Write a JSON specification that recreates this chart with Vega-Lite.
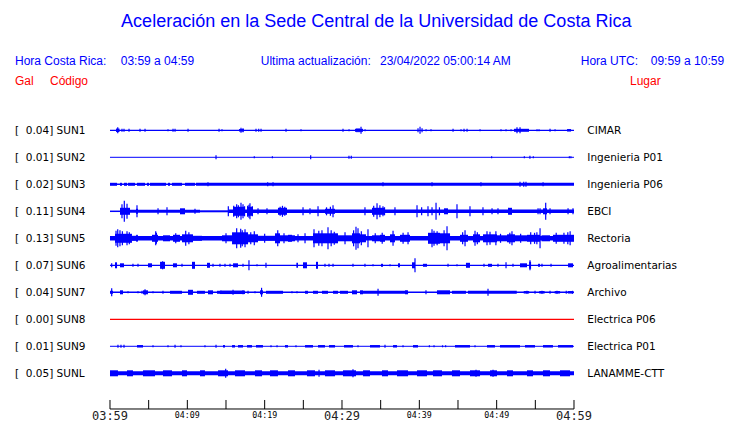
{
"$schema":"https://vega.github.io/schema/vega-lite/v6.json",
"width":740,"height":423,
"autosize":{"type":"fit","contains":"padding"},
"padding":0,
"background":"white",
"config":{"view":{"stroke":null}},
"datasets":{
"st":[
{"s":1,"lab":"[\u00a0\u00a00.04] SUN1","lug":"CIMAR"},
{"s":2,"lab":"[\u00a0\u00a00.01] SUN2","lug":"Ingenieria P01"},
{"s":3,"lab":"[\u00a0\u00a00.02] SUN3","lug":"Ingenieria P06"},
{"s":4,"lab":"[\u00a0\u00a00.11] SUN4","lug":"EBCI"},
{"s":5,"lab":"[\u00a0\u00a00.13] SUN5","lug":"Rectoria"},
{"s":6,"lab":"[\u00a0\u00a00.07] SUN6","lug":"Agroalimentarias"},
{"s":7,"lab":"[\u00a0\u00a00.04] SUN7","lug":"Archivo"},
{"s":8,"lab":"[\u00a0\u00a00.00] SUN8","lug":"Electrica P06"},
{"s":9,"lab":"[\u00a0\u00a00.01] SUN9","lug":"Electrica P01"},
{"s":10,"lab":"[\u00a0\u00a00.05] SUNL","lug":"LANAMME-CTT"}],
"ax":[{"t":0,"lab":"03:59"},{"t":5,"lab":""},{"t":10,"lab":"04:09"},{"t":15,"lab":""},{"t":20,"lab":"04:19"},{"t":25,"lab":""},{"t":30,"lab":"04:29"},{"t":35,"lab":""},{"t":40,"lab":"04:39"},{"t":45,"lab":""},{"t":50,"lab":"04:49"},{"t":55,"lab":""},{"t":60,"lab":"04:59"}],
"seg":[
{"s":1,"a":0,"b":60,"v":1.3},{"s":1,"a":0.78,"b":1.23,"v":3.5},{"s":1,"a":16.68,"b":17.33,"v":2.5},{"s":1,"a":31.68,"b":32.72,"v":3},{"s":1,"a":52.24,"b":54.18,"v":3},{"s":1,"a":59.1,"b":59.62,"v":2.5},
{"s":2,"a":0,"b":60,"v":1},
{"s":3,"a":0,"b":60,"v":1.5},{"s":3,"a":0,"b":0.91,"v":3},{"s":3,"a":1.29,"b":1.55,"v":3},{"s":3,"a":1.81,"b":2.2,"v":3},{"s":3,"a":2.33,"b":3.23,"v":3},{"s":3,"a":3.49,"b":4.53,"v":3},{"s":3,"a":4.78,"b":5.04,"v":3},{"s":3,"a":5.17,"b":7.24,"v":3},{"s":3,"a":7.5,"b":7.76,"v":3},{"s":3,"a":8.02,"b":9.31,"v":3},{"s":3,"a":9.7,"b":10.99,"v":3},{"s":3,"a":11.12,"b":60,"v":3},
{"s":4,"a":0,"b":1.29,"v":1.5},{"s":4,"a":1.29,"b":11.64,"v":3},{"s":4,"a":11.64,"b":15.3,"v":2},{"s":4,"a":15.3,"b":60,"v":3.5},{"s":4,"a":1.29,"b":2.59,"v":7},{"s":4,"a":3.36,"b":3.62,"v":5},{"s":4,"a":9.05,"b":9.7,"v":6},{"s":4,"a":15.91,"b":17.46,"v":9},{"s":4,"a":17.72,"b":18.49,"v":9},{"s":4,"a":21.72,"b":22.89,"v":7},{"s":4,"a":27.8,"b":29.1,"v":5},{"s":4,"a":33.88,"b":35.56,"v":7},{"s":4,"a":43.19,"b":43.71,"v":6},{"s":4,"a":51.47,"b":51.98,"v":7},{"s":4,"a":55.99,"b":56.51,"v":6},
{"s":5,"a":0,"b":60,"v":4.5},{"s":5,"a":0.65,"b":2.84,"v":9},{"s":5,"a":2.84,"b":3.36,"v":5},{"s":5,"a":3.36,"b":3.62,"v":6},{"s":5,"a":5.43,"b":6.21,"v":7},{"s":5,"a":6.85,"b":7.76,"v":6},{"s":5,"a":8.15,"b":9.05,"v":7},{"s":5,"a":9.31,"b":10.73,"v":8},{"s":5,"a":10.73,"b":11.9,"v":5},{"s":5,"a":14.48,"b":15.78,"v":6},{"s":5,"a":15.78,"b":17.85,"v":12},{"s":5,"a":17.85,"b":19.14,"v":8},{"s":5,"a":19.14,"b":21.34,"v":5},{"s":5,"a":21.34,"b":21.98,"v":10},{"s":5,"a":21.98,"b":23.92,"v":6},{"s":5,"a":23.02,"b":23.53,"v":7},{"s":5,"a":26.25,"b":26.9,"v":10},{"s":5,"a":26.9,"b":29.48,"v":10},{"s":5,"a":29.48,"b":31.29,"v":6},{"s":5,"a":31.29,"b":32.33,"v":10},{"s":5,"a":32.33,"b":33.1,"v":8},{"s":5,"a":33.88,"b":34.91,"v":6},{"s":5,"a":34.91,"b":35.56,"v":7},{"s":5,"a":36.21,"b":36.85,"v":8},{"s":5,"a":37.5,"b":38.79,"v":7},{"s":5,"a":41.12,"b":42.67,"v":11},{"s":5,"a":42.67,"b":43.97,"v":10},{"s":5,"a":45.26,"b":46.29,"v":7},{"s":5,"a":46.94,"b":47.85,"v":8},{"s":5,"a":48.23,"b":50.04,"v":8},{"s":5,"a":50.04,"b":51.34,"v":6},{"s":5,"a":51.34,"b":52.37,"v":8},{"s":5,"a":52.37,"b":53.92,"v":6},{"s":5,"a":53.92,"b":55.61,"v":7},{"s":5,"a":55.8,"b":56.9,"v":6},{"s":5,"a":57.28,"b":58.19,"v":7},{"s":5,"a":58.19,"b":60,"v":7},
{"s":6,"a":0,"b":60,"v":1.2},{"s":6,"a":0.65,"b":0.91,"v":6},{"s":6,"a":1.29,"b":1.81,"v":4},{"s":6,"a":4.91,"b":5.43,"v":4},{"s":6,"a":6.47,"b":7.11,"v":7},{"s":6,"a":8.15,"b":8.66,"v":4},{"s":6,"a":10.6,"b":10.99,"v":7},{"s":6,"a":12.54,"b":12.93,"v":5},{"s":6,"a":15.91,"b":16.55,"v":4},{"s":6,"a":24.1,"b":24.31,"v":5},{"s":6,"a":24.96,"b":25.47,"v":6},{"s":6,"a":26.64,"b":26.9,"v":7},{"s":6,"a":35.04,"b":35.3,"v":3},{"s":6,"a":37.24,"b":37.5,"v":4},{"s":6,"a":39.05,"b":39.44,"v":6},{"s":6,"a":40.47,"b":40.99,"v":3},{"s":6,"a":46.03,"b":46.55,"v":5},{"s":6,"a":48.88,"b":49.4,"v":3},{"s":6,"a":53.02,"b":53.92,"v":4},{"s":6,"a":54.2,"b":54.45,"v":7},{"s":6,"a":55.35,"b":55.61,"v":3},{"s":6,"a":59.23,"b":59.87,"v":4},
{"s":7,"a":0,"b":60,"v":1.5},{"s":7,"a":0,"b":0.39,"v":3},{"s":7,"a":1.29,"b":1.68,"v":4},{"s":7,"a":4.27,"b":4.91,"v":4},{"s":7,"a":7.76,"b":9.31,"v":3},{"s":7,"a":10.09,"b":10.73,"v":5},{"s":7,"a":11.25,"b":12.28,"v":3},{"s":7,"a":12.67,"b":13.32,"v":4},{"s":7,"a":13.84,"b":14.48,"v":3},{"s":7,"a":14.22,"b":17.46,"v":3.5},{"s":7,"a":19.4,"b":19.78,"v":4},{"s":7,"a":20.17,"b":22.37,"v":3},{"s":7,"a":25.22,"b":25.6,"v":3},{"s":7,"a":26.25,"b":26.9,"v":3},{"s":7,"a":27.41,"b":28.19,"v":3},{"s":7,"a":28.84,"b":29.48,"v":3},{"s":7,"a":29.74,"b":30.78,"v":3},{"s":7,"a":31.29,"b":31.94,"v":4},{"s":7,"a":32.33,"b":32.72,"v":4},{"s":7,"a":32.72,"b":38.41,"v":3},{"s":7,"a":38.15,"b":38.54,"v":4},{"s":7,"a":42.28,"b":43.97,"v":4},{"s":7,"a":44.22,"b":46.03,"v":3},{"s":7,"a":46.29,"b":52.6,"v":3},{"s":7,"a":53.5,"b":54.2,"v":2.5},{"s":7,"a":55.5,"b":56.2,"v":2.5},{"s":7,"a":57.5,"b":58.2,"v":2.5},{"s":7,"a":59.2,"b":59.9,"v":2.5},
{"s":8,"a":0,"b":60,"v":1.3},
{"s":9,"a":0,"b":60,"v":1},{"s":9,"a":3.49,"b":4.27,"v":2.5},{"s":9,"a":14.61,"b":14.87,"v":2.5},{"s":9,"a":15.78,"b":16.16,"v":2.5},{"s":9,"a":16.55,"b":17.2,"v":2.5},{"s":9,"a":17.72,"b":18.36,"v":2.5},{"s":9,"a":18.88,"b":19.78,"v":2.5},{"s":9,"a":22.63,"b":23.02,"v":2.5},{"s":9,"a":25.22,"b":26.25,"v":2.5},{"s":9,"a":26.9,"b":27.8,"v":2.5},{"s":9,"a":28.32,"b":29.1,"v":2.5},{"s":9,"a":30.26,"b":31.42,"v":2.5},{"s":9,"a":33.62,"b":34.91,"v":2.5},{"s":9,"a":36.6,"b":37.11,"v":2.5},{"s":9,"a":39.18,"b":39.83,"v":2.5},{"s":9,"a":44.61,"b":46.55,"v":2.5},{"s":9,"a":48.75,"b":49.78,"v":2.5},{"s":9,"a":50.43,"b":53.02,"v":2.5},{"s":9,"a":53.66,"b":54.96,"v":2.5},{"s":9,"a":55.99,"b":57.28,"v":2.5},{"s":9,"a":57.93,"b":59.87,"v":2.5},
{"s":10,"a":0,"b":60,"v":4},{"s":10,"a":0,"b":1.03,"v":6},{"s":10,"a":2.2,"b":2.97,"v":6},{"s":10,"a":4.27,"b":5.82,"v":6},{"s":10,"a":6.85,"b":8.02,"v":6},{"s":10,"a":9.31,"b":9.96,"v":6},{"s":10,"a":11.64,"b":12.28,"v":6},{"s":10,"a":13.97,"b":15.26,"v":6},{"s":10,"a":16.16,"b":17.46,"v":6},{"s":10,"a":18.75,"b":19.66,"v":6},{"s":10,"a":20.69,"b":21.72,"v":6},{"s":10,"a":23.02,"b":23.92,"v":6},{"s":10,"a":25.47,"b":26.51,"v":6},{"s":10,"a":27.8,"b":29.1,"v":6},{"s":10,"a":30.13,"b":31.81,"v":6},{"s":10,"a":32.72,"b":33.62,"v":6},{"s":10,"a":35.17,"b":35.95,"v":6},{"s":10,"a":37.11,"b":38.54,"v":6},{"s":10,"a":39.7,"b":40.99,"v":6},{"s":10,"a":41.77,"b":42.93,"v":6},{"s":10,"a":44.22,"b":45.26,"v":6},{"s":10,"a":46.55,"b":47.85,"v":6},{"s":10,"a":49.14,"b":50.04,"v":6},{"s":10,"a":51.34,"b":52.11,"v":6},{"s":10,"a":53.92,"b":54.7,"v":6},{"s":10,"a":55.99,"b":56.9,"v":6},{"s":10,"a":58.19,"b":59.49,"v":6}],
"spk":[
{"s":1,"t":1.0,"v":6},{"s":1,"t":1.55,"v":3},{"s":1,"t":1.81,"v":3},{"s":1,"t":2.46,"v":3},{"s":1,"t":3.88,"v":3},{"s":1,"t":4.53,"v":3},{"s":1,"t":7.5,"v":2},{"s":1,"t":8.15,"v":3},{"s":1,"t":8.41,"v":3},{"s":1,"t":10.09,"v":3},{"s":1,"t":14.1,"v":3},{"s":1,"t":14.48,"v":2},{"s":1,"t":16.94,"v":5},{"s":1,"t":17.2,"v":4},{"s":1,"t":18.88,"v":3},{"s":1,"t":19.23,"v":3},{"s":1,"t":19.53,"v":3},{"s":1,"t":22.76,"v":3},{"s":1,"t":24.7,"v":2},{"s":1,"t":30.13,"v":3},{"s":1,"t":30.91,"v":2},{"s":1,"t":31.94,"v":4},{"s":1,"t":32.2,"v":4},{"s":1,"t":32.46,"v":7},{"s":1,"t":32.98,"v":2},{"s":1,"t":39.83,"v":4},{"s":1,"t":40.09,"v":7},{"s":1,"t":40.35,"v":4},{"s":1,"t":40.87,"v":2},{"s":1,"t":41.51,"v":2},{"s":1,"t":44.36,"v":3},{"s":1,"t":45.39,"v":2},{"s":1,"t":45.78,"v":3},{"s":1,"t":46.17,"v":3},{"s":1,"t":47.85,"v":2},{"s":1,"t":50.56,"v":2},{"s":1,"t":51.21,"v":2},{"s":1,"t":51.86,"v":2},{"s":1,"t":52.63,"v":6},{"s":1,"t":53.02,"v":6},{"s":1,"t":55.22,"v":2},{"s":1,"t":55.48,"v":2},{"s":1,"t":56.9,"v":3},{"s":1,"t":57.55,"v":2},
{"s":2,"t":13.71,"v":4},{"s":2,"t":18.66,"v":2},{"s":2,"t":21.0,"v":2},{"s":2,"t":25.95,"v":4},{"s":2,"t":30.9,"v":3},{"s":2,"t":31.2,"v":3},{"s":2,"t":49.35,"v":2},{"s":2,"t":53.58,"v":2},{"s":2,"t":54.3,"v":3},{"s":2,"t":54.74,"v":2},{"s":2,"t":59.4,"v":2},{"s":2,"t":59.6,"v":2},
{"s":3,"t":12.67,"v":4},{"s":3,"t":20.39,"v":4},{"s":3,"t":21.08,"v":4},{"s":3,"t":35.3,"v":4},{"s":3,"t":41.64,"v":4},{"s":3,"t":47.97,"v":4},{"s":3,"t":53.02,"v":5},{"s":3,"t":53.5,"v":5},{"s":3,"t":53.79,"v":5},{"s":3,"t":56.0,"v":4},
{"s":4,"t":1.85,"v":21},{"s":4,"t":2.2,"v":15},{"s":4,"t":1.55,"v":14},{"s":4,"t":3.49,"v":12},{"s":4,"t":6.21,"v":6},{"s":4,"t":7.37,"v":8},{"s":4,"t":10.99,"v":5},{"s":4,"t":15.3,"v":10},{"s":4,"t":16.0,"v":11},{"s":4,"t":16.38,"v":14},{"s":4,"t":16.6,"v":12},{"s":4,"t":16.94,"v":17},{"s":4,"t":17.2,"v":14},{"s":4,"t":17.4,"v":10},{"s":4,"t":17.8,"v":11},{"s":4,"t":17.97,"v":13},{"s":4,"t":18.1,"v":16},{"s":4,"t":18.4,"v":10},{"s":4,"t":19.14,"v":6},{"s":4,"t":20.3,"v":6},{"s":4,"t":22.0,"v":9},{"s":4,"t":22.3,"v":11},{"s":4,"t":22.6,"v":9},{"s":4,"t":24.96,"v":8},{"s":4,"t":25.86,"v":6},{"s":4,"t":26.9,"v":10},{"s":4,"t":28.0,"v":8},{"s":4,"t":28.5,"v":9},{"s":4,"t":28.84,"v":12},{"s":4,"t":32.97,"v":8},{"s":4,"t":34.1,"v":11},{"s":4,"t":34.53,"v":16},{"s":4,"t":34.9,"v":12},{"s":4,"t":35.3,"v":10},{"s":4,"t":35.5,"v":8},{"s":4,"t":36.85,"v":8},{"s":4,"t":39.7,"v":12},{"s":4,"t":40.3,"v":8},{"s":4,"t":41.12,"v":10},{"s":4,"t":41.64,"v":8},{"s":4,"t":42.16,"v":17},{"s":4,"t":42.6,"v":8},{"s":4,"t":44.87,"v":14},{"s":4,"t":46.55,"v":10},{"s":4,"t":48.23,"v":8},{"s":4,"t":49.4,"v":6},{"s":4,"t":50.17,"v":6},{"s":4,"t":55.35,"v":6},{"s":4,"t":55.61,"v":6},{"s":4,"t":56.34,"v":17},{"s":4,"t":56.9,"v":6},{"s":4,"t":59.23,"v":6},{"s":4,"t":59.87,"v":6},
{"s":5,"t":0.78,"v":15},{"s":5,"t":1.0,"v":18},{"s":5,"t":1.29,"v":16},{"s":5,"t":1.6,"v":14},{"s":5,"t":2.2,"v":14},{"s":5,"t":2.5,"v":12},{"s":5,"t":3.49,"v":7},{"s":5,"t":5.91,"v":14},{"s":5,"t":6.0,"v":11},{"s":5,"t":8.5,"v":10},{"s":5,"t":9.79,"v":15},{"s":5,"t":10.2,"v":12},{"s":5,"t":15.0,"v":10},{"s":5,"t":16.38,"v":20},{"s":5,"t":16.9,"v":19},{"s":5,"t":17.1,"v":16},{"s":5,"t":17.46,"v":18},{"s":5,"t":18.2,"v":12},{"s":5,"t":18.66,"v":14},{"s":5,"t":20.0,"v":9},{"s":5,"t":21.69,"v":16},{"s":5,"t":22.5,"v":10},{"s":5,"t":24.31,"v":8},{"s":5,"t":25.22,"v":10},{"s":5,"t":26.38,"v":18},{"s":5,"t":27.0,"v":15},{"s":5,"t":27.41,"v":16},{"s":5,"t":28.19,"v":22},{"s":5,"t":28.6,"v":16},{"s":5,"t":29.0,"v":13},{"s":5,"t":30.39,"v":12},{"s":5,"t":31.5,"v":16},{"s":5,"t":31.81,"v":23},{"s":5,"t":32.07,"v":20},{"s":5,"t":32.5,"v":14},{"s":5,"t":33.36,"v":18},{"s":5,"t":34.3,"v":10},{"s":5,"t":35.2,"v":11},{"s":5,"t":36.6,"v":15},{"s":5,"t":37.9,"v":11},{"s":5,"t":38.54,"v":12},{"s":5,"t":41.64,"v":18},{"s":5,"t":41.9,"v":15},{"s":5,"t":42.3,"v":14},{"s":5,"t":43.2,"v":16},{"s":5,"t":43.58,"v":24},{"s":5,"t":45.6,"v":12},{"s":5,"t":45.91,"v":16},{"s":5,"t":47.2,"v":15},{"s":5,"t":47.5,"v":12},{"s":5,"t":48.75,"v":14},{"s":5,"t":49.14,"v":13},{"s":5,"t":49.9,"v":14},{"s":5,"t":50.5,"v":9},{"s":5,"t":51.7,"v":11},{"s":5,"t":51.98,"v":14},{"s":5,"t":53.1,"v":9},{"s":5,"t":54.4,"v":12},{"s":5,"t":54.9,"v":11},{"s":5,"t":55.2,"v":12},{"s":5,"t":55.61,"v":20},{"s":5,"t":57.7,"v":11},{"s":5,"t":58.7,"v":11},{"s":5,"t":59.2,"v":12},{"s":5,"t":59.5,"v":14},
{"s":6,"t":0.22,"v":4},{"s":6,"t":2.97,"v":3},{"s":6,"t":3.62,"v":3},{"s":6,"t":6.8,"v":8},{"s":6,"t":9.31,"v":3},{"s":6,"t":13.32,"v":3},{"s":6,"t":14.22,"v":3},{"s":6,"t":14.87,"v":3},{"s":6,"t":15.52,"v":3},{"s":6,"t":17.2,"v":3},{"s":6,"t":17.97,"v":10},{"s":6,"t":19.01,"v":2},{"s":6,"t":20.17,"v":5},{"s":6,"t":27.8,"v":3},{"s":6,"t":28.32,"v":3},{"s":6,"t":28.84,"v":3},{"s":6,"t":31.42,"v":3},{"s":6,"t":32.97,"v":3},{"s":6,"t":34.01,"v":2},{"s":6,"t":36.21,"v":2},{"s":6,"t":39.44,"v":14},{"s":6,"t":43.71,"v":3},{"s":6,"t":44.87,"v":2},{"s":6,"t":48.36,"v":3},{"s":6,"t":50.17,"v":3},{"s":6,"t":51.21,"v":6},{"s":6,"t":52.11,"v":3},{"s":6,"t":54.31,"v":10},{"s":6,"t":55.86,"v":3},{"s":6,"t":57.03,"v":3},
{"s":7,"t":0.22,"v":8},{"s":7,"t":2.33,"v":2},{"s":7,"t":3.62,"v":2},{"s":7,"t":4.14,"v":3},{"s":7,"t":4.53,"v":6},{"s":7,"t":5.56,"v":2},{"s":7,"t":6.85,"v":3},{"s":7,"t":15.91,"v":5},{"s":7,"t":17.2,"v":4},{"s":7,"t":17.85,"v":3},{"s":7,"t":18.75,"v":2},{"s":7,"t":19.6,"v":9},{"s":7,"t":23.53,"v":2},{"s":7,"t":24.18,"v":2},{"s":7,"t":34.66,"v":7},{"s":7,"t":40.86,"v":4},{"s":7,"t":48.88,"v":7},{"s":7,"t":53.92,"v":3},{"s":7,"t":54.96,"v":3},{"s":7,"t":55.86,"v":3},{"s":7,"t":56.9,"v":3},{"s":7,"t":57.8,"v":3},{"s":7,"t":59.0,"v":3},{"s":7,"t":59.8,"v":3},
{"s":9,"t":1.03,"v":3},{"s":9,"t":1.42,"v":3},{"s":9,"t":1.81,"v":3},{"s":9,"t":5.56,"v":2},{"s":9,"t":7.5,"v":2},{"s":9,"t":8.41,"v":3},{"s":9,"t":9.18,"v":2},{"s":9,"t":12.28,"v":2},{"s":9,"t":13.71,"v":3},{"s":9,"t":20.82,"v":2},{"s":9,"t":21.6,"v":2},{"s":9,"t":24.05,"v":2},{"s":9,"t":32.07,"v":2},{"s":9,"t":35.56,"v":3},{"s":9,"t":37.89,"v":2},{"s":9,"t":41.3,"v":2},{"s":9,"t":41.9,"v":2},{"s":9,"t":43.0,"v":2},{"s":9,"t":43.4,"v":2},{"s":9,"t":47.2,"v":2},
{"s":10,"t":14.96,"v":9},{"s":10,"t":27.03,"v":7},{"s":10,"t":31.42,"v":8},{"s":10,"t":47.33,"v":7},{"s":10,"t":49.53,"v":7}]
},
"layer":[
{"data":{"name":"seg"},"mark":{"type":"rule"},
 "encoding":{
  "x":{"field":"a","type":"quantitative","scale":{"domain":[-14.224,81.466],"nice":false,"zero":false},"axis":null},
  "x2":{"field":"b"},
  "y":{"field":"s","type":"quantitative","scale":{"domain":[-3.826,11.841],"reverse":true,"nice":false,"zero":false},"axis":null},
  "strokeWidth":{"field":"v","type":"quantitative","scale":{"domain":[0,30],"range":[0,30]},"legend":null},
  "color":{"condition":{"test":"datum.s === 8","value":"#ff0000"},"value":"#0000ff"}}},
{"data":{"name":"spk"},"mark":{"type":"tick","orient":"vertical","thickness":1.2,"opacity":1},
 "encoding":{
  "x":{"field":"t","type":"quantitative","scale":{"domain":[-14.224,81.466],"nice":false,"zero":false},"axis":null},
  "y":{"field":"s","type":"quantitative","scale":{"domain":[-3.826,11.841],"reverse":true,"nice":false,"zero":false},"axis":null},
  "size":{"field":"v","type":"quantitative","scale":{"domain":[0,30],"range":[0,30]},"legend":null},
  "color":{"value":"#0000ff"}}},
{"data":{"name":"st"},"mark":{"type":"text","font":"DejaVu Sans","fontSize":10.5,"color":"#000000","align":"left","baseline":"middle","dy":1},
 "encoding":{
  "x":{"datum":-12.285,"type":"quantitative","axis":null},
  "y":{"field":"s","type":"quantitative","axis":null},
  "text":{"field":"lab"}}},
{"data":{"name":"st"},"mark":{"type":"text","font":"DejaVu Sans","fontSize":10.5,"color":"#000000","align":"left","baseline":"middle","dy":1},
 "encoding":{
  "x":{"datum":61.72,"type":"quantitative","axis":null},
  "y":{"field":"s","type":"quantitative","axis":null},
  "text":{"field":"lug"}}},
{"data":{"values":[{}]},"mark":{"type":"rule","color":"#000000","strokeWidth":1},
 "encoding":{
  "x":{"datum":0,"type":"quantitative","axis":null},"x2":{"datum":60},
  "y":{"datum":11.322,"type":"quantitative","axis":null}}},
{"data":{"name":"ax"},"mark":{"type":"rule","color":"#000000","strokeWidth":1},
 "encoding":{
  "x":{"field":"t","type":"quantitative","axis":null},
  "y":{"datum":10.989,"type":"quantitative","axis":null},"y2":{"datum":11.322}}},
{"data":{"name":"ax"},"transform":[{"filter":"datum.t % 30 === 0"}],
 "mark":{"type":"text","font":"DejaVu Sans Mono","fontSize":12,"color":"#222222","align":"center","baseline":"alphabetic"},
 "encoding":{
  "x":{"field":"t","type":"quantitative","axis":null},
  "y":{"datum":11.73,"type":"quantitative","axis":null},
  "text":{"field":"lab"}}},
{"data":{"name":"ax"},"transform":[{"filter":"datum.t % 30 !== 0"}],
 "mark":{"type":"text","font":"DejaVu Sans Mono","fontSize":8.3,"color":"#000000","align":"center","baseline":"alphabetic"},
 "encoding":{
  "x":{"field":"t","type":"quantitative","axis":null},
  "y":{"datum":11.667,"type":"quantitative","axis":null},
  "text":{"field":"lab"}}},
{"data":{"values":[{}]},"mark":{"type":"text","font":"Liberation Sans","fontSize":18,"color":"#0000ff","align":"center","baseline":"middle"},
 "encoding":{"x":{"datum":34.43,"type":"quantitative","axis":null},"y":{"datum":-3.011,"type":"quantitative","axis":null},
  "text":{"value":"Aceleración en la Sede Central de la Universidad de Costa Rica"}}},
{"data":{"values":[{}]},"mark":{"type":"text","font":"Liberation Sans","fontSize":12,"color":"#0000ff","align":"left","baseline":"middle"},
 "encoding":{"x":{"datum":-12.285,"type":"quantitative","axis":null},"y":{"datum":-1.578,"type":"quantitative","axis":null},"text":{"value":"Hora Costa Rica:"}}},
{"data":{"values":[{}]},"mark":{"type":"text","font":"Liberation Sans","fontSize":12,"color":"#0000ff","align":"left","baseline":"middle"},
 "encoding":{"x":{"datum":1.384,"type":"quantitative","axis":null},"y":{"datum":-1.578,"type":"quantitative","axis":null},"text":{"value":"03:59 a 04:59"}}},
{"data":{"values":[{}]},"mark":{"type":"text","font":"Liberation Sans","fontSize":12,"color":"#0000ff","align":"left","baseline":"middle"},
 "encoding":{"x":{"datum":19.49,"type":"quantitative","axis":null},"y":{"datum":-1.578,"type":"quantitative","axis":null},"text":{"value":"Ultima actualización:"}}},
{"data":{"values":[{}]},"mark":{"type":"text","font":"Liberation Sans","fontSize":12,"color":"#0000ff","align":"left","baseline":"middle"},
 "encoding":{"x":{"datum":34.91,"type":"quantitative","axis":null},"y":{"datum":-1.578,"type":"quantitative","axis":null},"text":{"value":"23/04/2022 05:00:14 AM"}}},
{"data":{"values":[{}]},"mark":{"type":"text","font":"Liberation Sans","fontSize":12,"color":"#0000ff","align":"left","baseline":"middle"},
 "encoding":{"x":{"datum":60.87,"type":"quantitative","axis":null},"y":{"datum":-1.578,"type":"quantitative","axis":null},"text":{"value":"Hora UTC:"}}},
{"data":{"values":[{}]},"mark":{"type":"text","font":"Liberation Sans","fontSize":12,"color":"#0000ff","align":"left","baseline":"middle"},
 "encoding":{"x":{"datum":69.92,"type":"quantitative","axis":null},"y":{"datum":-1.578,"type":"quantitative","axis":null},"text":{"value":"09:59 a 10:59"}}},
{"data":{"values":[{}]},"mark":{"type":"text","font":"Liberation Sans","fontSize":12,"color":"#ff0000","align":"left","baseline":"middle"},
 "encoding":{"x":{"datum":-12.285,"type":"quantitative","axis":null},"y":{"datum":-0.837,"type":"quantitative","axis":null},"text":{"value":"Gal"}}},
{"data":{"values":[{}]},"mark":{"type":"text","font":"Liberation Sans","fontSize":12,"color":"#ff0000","align":"left","baseline":"middle"},
 "encoding":{"x":{"datum":-7.759,"type":"quantitative","axis":null},"y":{"datum":-0.837,"type":"quantitative","axis":null},"text":{"value":"Código"}}},
{"data":{"values":[{}]},"mark":{"type":"text","font":"Liberation Sans","fontSize":12,"color":"#ff0000","align":"left","baseline":"middle"},
 "encoding":{"x":{"datum":67.24,"type":"quantitative","axis":null},"y":{"datum":-0.837,"type":"quantitative","axis":null},"text":{"value":"Lugar"}}}
]
}
